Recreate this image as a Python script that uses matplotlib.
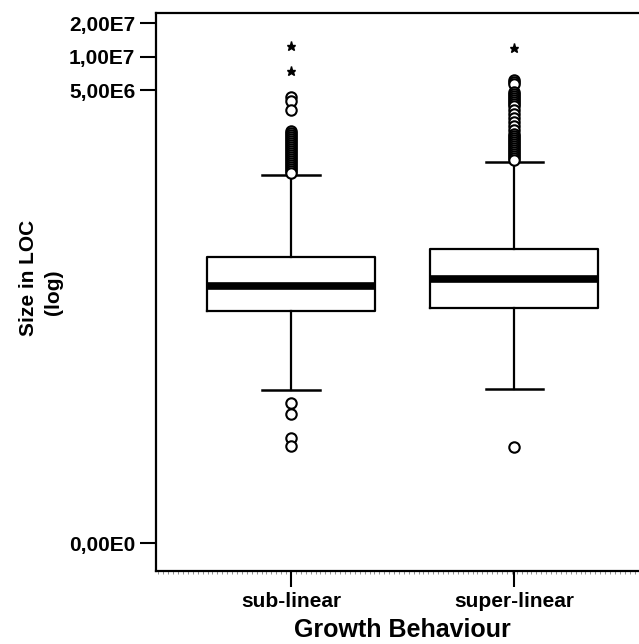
import matplotlib
matplotlib.use('Agg')
import matplotlib.pyplot as plt
from matplotlib.ticker import FixedLocator, MultipleLocator
import numpy as np

plt.rcParams['font.family'] = ['Liberation Sans', 'DejaVu Sans']

categories = ['sub-linear', 'super-linear']

# box statistics (LOC)
q1 = [51000, 54900]
medians = [86900, 100400]
q3 = [158600, 186000]
whisker_lo = [9660, 9880]
whisker_hi = [862000, 1135000]

# outliers (circles)
fliers_sub = [4355000, 4010000, 3310000, 2141000, 2055000, 1971000, 1891000,
              1815000, 1741000, 1670000, 1603000, 1538000, 1475000, 1415000,
              1359000, 1303000, 1251000, 1200000, 1151000, 1104000, 1060000,
              1017000, 976000, 936000, 898000,
              7230, 5710, 3290, 2740]
fliers_super = [6150000, 5900000, 5660000, 4800000, 4600000, 4420000, 4240000,
                4065000, 3900000, 3740000, 3590000, 3310000, 3040000, 2800000,
                2580000, 2375000, 2180000, 2000000, 1930000, 1850000, 1778000,
                1700000, 1637000, 1570000, 1506000, 1445000, 1387000, 1331000,
                1276000, 1225000, 1175000,
                2690]
# extreme values (stars)
extremes_sub = [12430000, 7450000]
extremes_super = [11930000]

ytick_vals = [2e7, 1e7, 5e6, 0]
ytick_labels = ['2,00E7', '1,00E7', '5,00E6', '0,00E0']

OFFSET = 425


def fwd(x):
    return np.log10(np.clip(np.asarray(x, dtype=float) + OFFSET, 1e-3, None))


def inv(y):
    return 10 ** np.asarray(y, dtype=float) - OFFSET


fig = plt.figure(figsize=(6.39, 6.44), dpi=100)
ax = fig.add_axes([156 / 639, 1 - 570.7 / 644, (639 - 156) / 639, (570.7 - 13) / 644])

stats = []
for i in range(len(categories)):
    stats.append({
        'med': medians[i], 'q1': q1[i], 'q3': q3[i],
        'whislo': whisker_lo[i], 'whishi': whisker_hi[i],
        'fliers': [fliers_sub, fliers_super][i], 'label': categories[i],
    })

pos = np.arange(len(categories))
ax.bxp(stats, positions=pos, widths=0.753, capwidths=0.256, showfliers=True,
       boxprops=dict(color='black', linewidth=1.6),
       medianprops=dict(color='black', linewidth=5.5, solid_capstyle='butt'),
       whiskerprops=dict(color='black', linewidth=1.6),
       capprops=dict(color='black', linewidth=1.8),
       flierprops=dict(marker='o', markerfacecolor='white', markeredgecolor='black',
                       markersize=7.5, markeredgewidth=1.5, linestyle='none'))

for i, ext in enumerate([extremes_sub, extremes_super]):
    ax.plot([pos[i]] * len(ext), ext, linestyle='none', marker='*',
            color='black', markersize=6.5)

ax.set_yscale('function', functions=(fwd, inv))
ax.set_ylim(-185, 2.46e7)
ax.set_xlim(-0.605, 1.56)

ax.yaxis.set_major_locator(FixedLocator(ytick_vals))
ax.set_yticklabels(ytick_labels)
ax.yaxis.set_minor_locator(FixedLocator([]))
ax.set_xticks(pos)
ax.set_xticklabels(categories)
ax.xaxis.set_minor_locator(MultipleLocator(0.022))

ax.tick_params(axis='both', which='major', direction='out', length=11.5, width=1.5,
               labelsize=15, pad=3.5)
ax.tick_params(axis='x', which='minor', direction='out', length=2, width=0.5, color='#666666')
for lbl in ax.get_xticklabels() + ax.get_yticklabels():
    lbl.set_fontweight('bold')

for side in ['left', 'bottom', 'top']:
    ax.spines[side].set_linewidth(1.6)
ax.spines['right'].set_visible(False)

fig.text(402 / 639, 1 - 630 / 644, 'Growth Behaviour', ha='center', va='center',
         fontsize=18, fontweight='bold')
fig.text(28 / 639, 1 - 278 / 644, 'Size in LOC', ha='center', va='center',
         rotation=90, fontsize=15, fontweight='bold')
fig.text(54 / 639, 1 - 292 / 644, '(log)', ha='center', va='center',
         rotation=90, fontsize=15, fontweight='bold')

fig.savefig('out.png', dpi=100)
